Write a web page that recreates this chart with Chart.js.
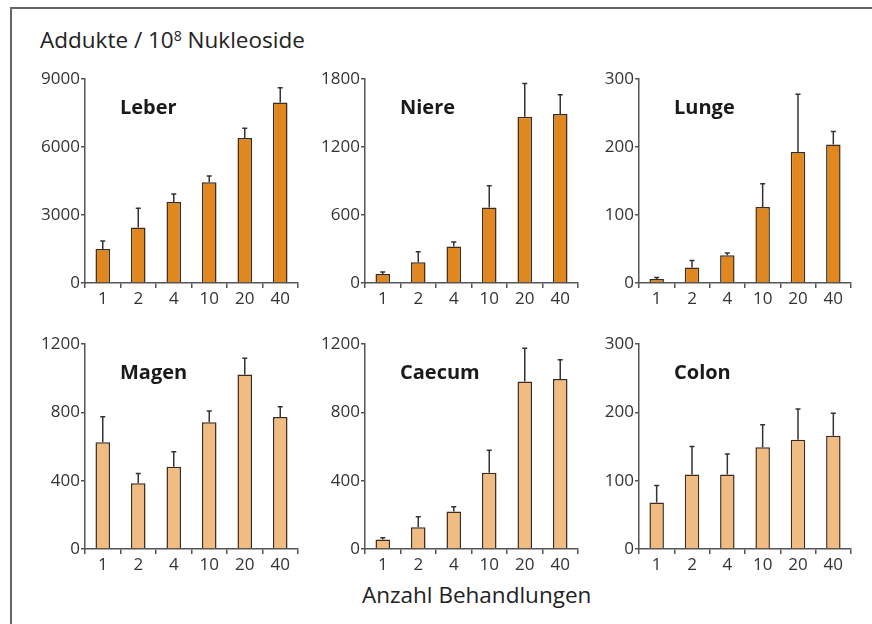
<!DOCTYPE html>
<html>
<head>
<meta charset="utf-8">
<script src="https://cdn.jsdelivr.net/npm/chart.js@4"></script>
<style>
  body { margin: 0; background: #fff; width: 872px; height: 624px; overflow: hidden; position: relative; font-family: 'Open Sans', sans-serif; }
  .frame { position: absolute; left: 10px; top: 7px; width: 900px; height: 700px; border-left: 2px solid #666; border-top: 2px solid #666; }
  .panel { position: absolute; }
  .label { position: absolute; font-size: 22.5px; line-height: 30px; color: #222; white-space: nowrap; }
  .label sup { font-size: 14px; vertical-align: 7px; line-height: 0; }
</style>
</head>
<body>
<div class="frame"></div>
<div class="label" style="left:40px;top:25px;">Addukte / 10<sup>8</sup> Nukleoside</div>
<div class="label" style="left:362px;top:580px;">Anzahl Behandlungen</div>

<script>
// ---- Data ----
const treatments = ['1', '2', '4', '10', '20', '40'];

const leberMean  = [1500, 2450, 3580, 4450, 6400, 7970];
const leberErr   = [1850, 3300, 3930, 4720, 6830, 8620];
const niereMean  = [79, 184, 322, 667, 1469, 1493];
const niereErr   = [97, 275, 363, 860, 1762, 1662];
const lungeMean  = [6, 23, 41, 112, 193, 204];
const lungeErr   = [8, 33, 44, 146, 278, 223];
const magenMean  = [625, 385, 482, 743, 1023, 774];
const magenErr   = [775, 443, 570, 809, 1118, 834];
const caecumMean = [55, 128, 220, 447, 982, 996];
const caecumErr  = [66, 189, 247, 578, 1177, 1109];
const colonMean  = [68, 109, 109, 149, 160, 166];
const colonErr   = [93, 150, 139, 182, 205, 199];

const yMax  = [9000, 1800, 300, 1200, 1200, 300];
const yStep = [3000, 600, 100, 400, 400, 100];

// ---- Panel layout (chart area boxes) ----
const panels = [
  { title: 'Leber',  mean: leberMean,  err: leberErr,  left: 85,  top: 78,  w: 213, h: 205, color: '#E0871F' },
  { title: 'Niere',  mean: niereMean,  err: niereErr,  left: 365, top: 78,  w: 213, h: 205, color: '#E0871F' },
  { title: 'Lunge',  mean: lungeMean,  err: lungeErr,  left: 639, top: 78,  w: 212, h: 205, color: '#E0871F' },
  { title: 'Magen',  mean: magenMean,  err: magenErr,  left: 85,  top: 343, w: 213, h: 206, color: '#F0BC82' },
  { title: 'Caecum', mean: caecumMean, err: caecumErr, left: 365, top: 343, w: 213, h: 206, color: '#F0BC82' },
  { title: 'Colon',  mean: colonMean,  err: colonErr,  left: 639, top: 343, w: 212, h: 206, color: '#F0BC82' }
];

const Y_W = 55, X_H = 27, PAD_T = 10, PAD_R = 12;
const AXIS = '#555';

// error bars + panel title
const errorBars = {
  id: 'errorBars',
  afterDatasetsDraw: function (chart, args, opts) {
    const ctx = chart.ctx;
    const y = chart.scales.y;
    const meta = chart.getDatasetMeta(0);
    ctx.save();
    ctx.strokeStyle = '#333';
    ctx.lineWidth = 1.5;
    meta.data.forEach(function (bar, i) {
      const yTop = y.getPixelForValue(opts.err[i]);
      ctx.beginPath();
      ctx.moveTo(bar.x, bar.y);
      ctx.lineTo(bar.x, yTop);
      ctx.moveTo(bar.x - 2.5, yTop);
      ctx.lineTo(bar.x + 2.5, yTop);
      ctx.stroke();
    });
    ctx.fillStyle = '#1a1a1a';
    ctx.font = 'bold 20px "Open Sans"';
    ctx.textBaseline = 'alphabetic';
    ctx.fillText(opts.title, chart.chartArea.left + 35, chart.chartArea.top + 35);
    ctx.restore();
  }
};

panels.forEach(function (p, k) {
  const wrap = document.createElement('div');
  wrap.className = 'panel';
  wrap.style.left = (p.left - Y_W) + 'px';
  wrap.style.top = (p.top - PAD_T) + 'px';
  wrap.style.width = (Y_W + p.w + PAD_R) + 'px';
  wrap.style.height = (PAD_T + p.h + X_H) + 'px';
  const cv = document.createElement('canvas');
  wrap.appendChild(cv);
  document.body.appendChild(wrap);

  new Chart(cv.getContext('2d'), {
    type: 'bar',
    data: {
      labels: treatments,
      datasets: [{
        data: p.mean,
        backgroundColor: p.color,
        borderColor: '#3d2b1f',
        borderWidth: 1.5,
        borderSkipped: 'bottom',
        barPercentage: 0.41,
        categoryPercentage: 1
      }]
    },
    options: {
      responsive: true,
      maintainAspectRatio: false,
      animation: false,
      layout: { padding: { top: PAD_T, right: PAD_R, left: 0, bottom: 0 } },
      plugins: {
        legend: { display: false },
        tooltip: { enabled: false },
        errorBars: { err: p.err, title: p.title }
      },
      scales: {
        x: {
          grid: { display: true, offset: true, drawOnChartArea: false, color: AXIS, tickLength: 5, lineWidth: 1.5 },
          border: { display: true, color: AXIS, width: 1.5 },
          ticks: { color: '#333', font: { family: 'Open Sans', size: 17 }, padding: 1, maxRotation: 0 },
          afterFit: function (s) { s.height = X_H; }
        },
        y: {
          min: 0,
          max: yMax[k],
          grid: { display: true, drawOnChartArea: false, color: AXIS, tickLength: 4, lineWidth: 1.5 },
          border: { display: true, color: AXIS, width: 1.5 },
          ticks: {
            stepSize: yStep[k], color: '#333', font: { family: 'Open Sans', size: 17 }, padding: 1,
            callback: function (v) { return String(v); }
          },
          afterFit: function (s) { s.width = Y_W; }
        }
      }
    },
    plugins: [errorBars]
  });
});
</script>
</body>
</html>
